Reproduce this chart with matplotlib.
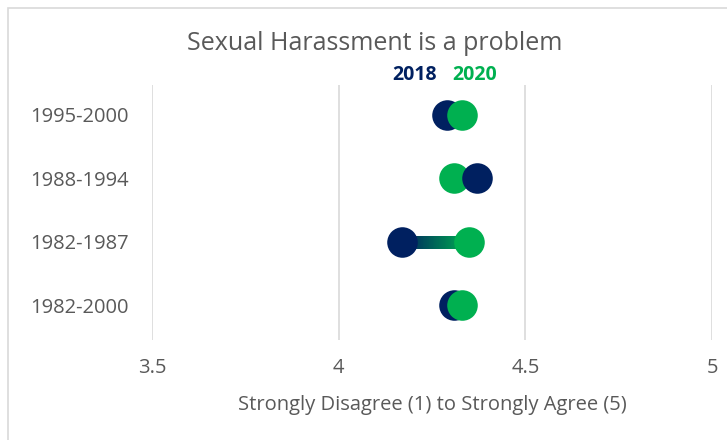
import matplotlib.pyplot as plt
import numpy as np
from matplotlib.collections import LineCollection
from matplotlib.colors import LinearSegmentedColormap
from matplotlib.patches import Rectangle

plt.rcParams['font.family'] = ['Open Sans', 'DejaVu Sans']

# cohorts, bottom to top
cohorts = ['1982-2000', '1982-1987', '1988-1994', '1995-2000']
score_2018 = [4.31, 4.17, 4.37, 4.29]
score_2020 = [4.33, 4.35, 4.31, 4.33]
x_ticks = [3.5, 4, 4.5, 5]
x_tick_labels = ['3.5', '4', '4.5', '5']

NAVY = '#002060'
GREEN = '#00B050'
TEXT = '#595959'

fig = plt.figure(figsize=(7.27, 4.40), dpi=100)
ax = fig.add_axes([152 / 727, 100 / 440, 560 / 727, 255 / 440])

# outer chart border
fig.patches.append(Rectangle((8 / 727, -0.1), 1.2, (432 + 44) / 440, transform=fig.transFigure,
                             fill=False, edgecolor='#d9d9d9', linewidth=1.2))

cmap = LinearSegmentedColormap.from_list('yr', [NAVY, GREEN])
for i, (a, b) in enumerate(zip(score_2018, score_2020)):
    # gradient connector from 2018 to 2020
    xs = np.linspace(a, b, 80)
    segs = [[(xs[k], i), (xs[min(k + 2, len(xs) - 1)], i)] for k in range(len(xs) - 1)]
    lc = LineCollection(segs, colors=cmap(np.linspace(0, 1, len(segs))), linewidths=9,
                        capstyle='butt', antialiaseds=False, zorder=2)
    ax.add_collection(lc)
    z18, z20 = (4, 3) if a > b else (3, 4)
    ax.plot(a, i, 'o', color=NAVY, markersize=22, markeredgewidth=0, zorder=z18)
    ax.plot(b, i, 'o', color=GREEN, markersize=22, markeredgewidth=0, zorder=z20)

ax.set_xlim(3.5, 5)
ax.set_ylim(-0.55, 3.47)
ax.set_xticks(x_ticks)
ax.set_xticklabels(x_tick_labels)
ax.set_yticks(range(len(cohorts)))
ax.set_yticklabels(cohorts)
ax.tick_params(length=0, labelsize=14.5, colors=TEXT)
ax.tick_params(axis='x', pad=13)
ax.tick_params(axis='y', pad=17)
ax.grid(axis='x', color='#d9d9d9', linewidth=1.2)
ax.set_axisbelow(True)
for s in ax.spines.values():
    s.set_visible(False)

ax.set_xlabel('Strongly Disagree (1) to Strongly Agree (5)', fontsize=14.5, color=TEXT, labelpad=12)
fig.text(375 / 727, 1 - 44 / 440, 'Sexual Harassment is a problem', ha='center', va='center',
         fontsize=18, color=TEXT)
fig.text(415 / 727, 1 - 75 / 440, '2018', ha='center', va='center', fontsize=14,
         fontweight='bold', color=NAVY)
fig.text(475 / 727, 1 - 75 / 440, '2020', ha='center', va='center', fontsize=14,
         fontweight='bold', color=GREEN)

fig.savefig('out.png', dpi=100)
